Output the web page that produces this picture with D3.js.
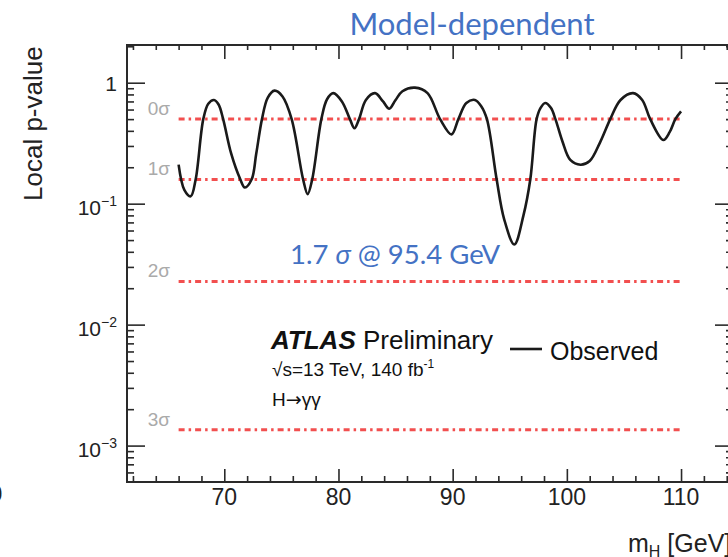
<!DOCTYPE html>
<head>
  <meta charset="utf-8">
  <title>Local p-value</title>
  <script src="https://cdn.jsdelivr.net/npm/d3@7"></script>
  <style>
    body { margin: 0; background: #fff; }
    svg text { font-family: "Liberation Sans", Arial, sans-serif; }
    svg text.blue { font-family: Lato, "Open Sans", sans-serif; }
    svg tspan.arrow { font-family: "DejaVu Sans", sans-serif; }
  </style>
</head>
<body>
<svg width="728" height="557"></svg>
<script>
// values
var massTicks = [70, 80, 90, 100, 110]
var pTicks = [1, 0.1, 0.01, 0.001]
var pBase = ["1", "10", "10", "10"]
var pExp = ["", "−1", "−2", "−3"]
var sigmaNames = ["0σ", "1σ", "2σ", "3σ"]
var sigmaP = [0.5, 0.1587, 0.02275, 0.00135]

var obsMass = [66.0, 66.5, 67.06, 67.5, 68.16, 68.6, 69.1, 69.5, 69.9, 70.6, 71.4, 71.8, 72.4, 72.8, 73.3, 73.8, 74.4, 75.1, 75.9, 76.9,
  77.3, 77.7, 78.5, 79.0, 79.55, 80.3, 81.0, 81.4, 81.8, 82.4, 83.2, 83.9, 84.45, 85.0, 85.6, 86.7, 87.8, 88.9, 89.9, 90.5,
  91.2, 91.95, 92.5, 93.0, 93.85, 94.5, 95.4, 96.2, 96.8, 97.35, 97.7, 98.1, 98.6, 99.0, 99.6, 100.3, 101.2, 102.0, 102.9, 103.8,
  104.7, 105.8, 106.6, 107.3, 108.45, 109.0, 109.5, 110.0]
var obsP = [0.21, 0.13, 0.115, 0.16, 0.5, 0.67, 0.72, 0.66, 0.5, 0.26, 0.159, 0.136, 0.159, 0.26, 0.5, 0.75, 0.86, 0.77, 0.5, 0.159,
  0.12, 0.159, 0.5, 0.73, 0.82, 0.70, 0.5, 0.42, 0.5, 0.72, 0.82, 0.70, 0.61, 0.72, 0.85, 0.91, 0.82, 0.5, 0.374, 0.5,
  0.68, 0.72, 0.64, 0.5, 0.159, 0.075, 0.046, 0.08, 0.159, 0.5, 0.62, 0.68, 0.62, 0.5, 0.33, 0.23, 0.21, 0.225, 0.32, 0.5,
  0.72, 0.82, 0.72, 0.5, 0.336, 0.39, 0.5, 0.58]

var svg = d3.select('svg')
var frameL = 127, frameR = 733, frameT = 45, frameB = 482

var x = d3.scaleLinear().domain([61.48, 114.55]).range([frameL, frameR])
var y = d3.scaleLog().domain([5e-4, 2.05]).range([frameB, frameT])

var axisColor = '#2a2a2a'

// minor ticks
var xMinor = d3.range(62, 115, 2).filter(function (d) { return massTicks.indexOf(d) < 0 })
var yMinor = []
;[-4, -3, -2, -1, 0].forEach(function (k) {
  d3.range(2, 10).forEach(function (m) {
    var v = m * Math.pow(10, k)
    if (v > 5e-4 && v < 2.05) yMinor.push(v)
  })
})

function tickAxis(axis, pos, size) {
  var g = svg.append('g').attr('transform', pos).call(axis.tickSize(size).tickFormat(''))
  g.select('.domain').remove()
  g.selectAll('line').attr('stroke', axisColor).attr('stroke-width', 1.6)
}
tickAxis(d3.axisBottom(x).tickValues(massTicks), 'translate(0,' + frameB + ')', -13)
tickAxis(d3.axisBottom(x).tickValues(xMinor), 'translate(0,' + frameB + ')', -6)
tickAxis(d3.axisTop(x).tickValues(massTicks), 'translate(0,' + frameT + ')', -14)
tickAxis(d3.axisTop(x).tickValues(xMinor), 'translate(0,' + frameT + ')', -5)
tickAxis(d3.axisLeft(y).tickValues(pTicks), 'translate(' + frameL + ',0)', -18)
tickAxis(d3.axisLeft(y).tickValues(yMinor), 'translate(' + frameL + ',0)', -7)
tickAxis(d3.axisRight(y).tickValues(pTicks), 'translate(' + frameR + ',0)', -18)
tickAxis(d3.axisRight(y).tickValues(yMinor), 'translate(' + frameR + ',0)', -7)

svg.append('rect')
  .attr('x', frameL).attr('y', frameT)
  .attr('width', frameR - frameL).attr('height', frameB - frameT)
  .attr('fill', 'none').attr('stroke', axisColor).attr('stroke-width', 2)

// x labels
svg.selectAll('.xlab').data(massTicks).enter().append('text')
  .attr('x', function (d) { return x(d) })
  .attr('y', 505)
  .attr('text-anchor', 'middle')
  .attr('font-size', 23)
  .attr('fill', '#222')
  .text(function (d) { return d })

// y labels
pTicks.forEach(function (v, i) {
  var t = svg.append('text')
    .attr('x', 117)
    .attr('y', y(v) + (i == 0 ? 8 : 11))
    .attr('text-anchor', 'end')
    .attr('font-size', 21)
    .attr('fill', '#222')
  t.append('tspan').text(pBase[i])
  if (pExp[i]) t.append('tspan').attr('font-size', 14).attr('dy', -9).text(pExp[i])
})

// axis titles
svg.append('text')
  .attr('transform', 'translate(42,201) rotate(-90)')
  .attr('font-size', 26)
  .attr('fill', '#222')
  .text('Local p-value')

var xt = svg.append('text')
  .attr('x', 628).attr('y', 552)
  .attr('font-size', 25)
  .attr('fill', '#222')
xt.append('tspan').text('m')
xt.append('tspan').attr('font-size', 16).attr('dy', 5).text('H')
xt.append('tspan').attr('dy', -5).text(' [GeV]')

// leftover glyph at the page edge
svg.append('text').attr('x', -11).attr('y', 502).attr('font-size', 24).attr('fill', '#222').text('0')

// sigma lines
svg.selectAll('.sig').data(sigmaP).enter().append('line')
  .attr('x1', x(66)).attr('x2', x(110))
  .attr('y1', function (d) { return y(d) })
  .attr('y2', function (d) { return y(d) })
  .attr('stroke', '#f03030')
  .attr('stroke-opacity', 0.85)
  .attr('stroke-width', 3)
  .attr('stroke-dasharray', '6,4,2.5,4')

svg.selectAll('.siglab').data(sigmaP).enter().append('text')
  .attr('x', 170)
  .attr('y', function (d) { return y(d) - 4 })
  .attr('text-anchor', 'end')
  .attr('font-size', 19)
  .attr('fill', '#aaa')
  .text(function (d, i) { return sigmaNames[i] })

// observed curve
var line = d3.line()
  .x(function (d, i) { return x(obsMass[i]) })
  .y(function (d, i) { return y(obsP[i]) })
  .curve(d3.curveCatmullRom.alpha(0.5))

svg.append('path')
  .attr('d', line(obsMass))
  .attr('fill', 'none')
  .attr('stroke', '#1a1a1a')
  .attr('stroke-width', 2.6)

// labels in the plot
var atlas = svg.append('text').attr('x', 271).attr('y', 349).attr('font-size', 26).attr('fill', '#111')
atlas.append('tspan').attr('font-weight', 'bold').attr('font-style', 'italic').text('ATLAS')
atlas.append('tspan').text(' Preliminary')

var energy = svg.append('text').attr('x', 272).attr('y', 376).attr('font-size', 19).attr('fill', '#111')
energy.append('tspan').text('√s=13 TeV, 140 fb')
energy.append('tspan').attr('font-size', 12).attr('dy', -8).text('-1')

var decay = svg.append('text').attr('x', 272).attr('y', 406).attr('font-size', 19).attr('fill', '#111')
decay.append('tspan').text('H')
decay.append('tspan').attr('class', 'arrow').text('→')
decay.append('tspan').text('γγ')

svg.append('line')
  .attr('x1', 510).attr('x2', 542).attr('y1', 349).attr('y2', 349)
  .attr('stroke', '#1a1a1a').attr('stroke-width', 2.6)
svg.append('text').attr('x', 550).attr('y', 360).attr('font-size', 25).attr('fill', '#111').text('Observed')

// blue annotations
svg.append('text')
  .attr('class', 'blue')
  .attr('x', 472).attr('y', 35)
  .attr('text-anchor', 'middle')
  .attr('font-size', 31)
  .attr('fill', '#4472c4')
  .text('Model-dependent')

var note = svg.append('text')
  .attr('class', 'blue')
  .attr('x', 290).attr('y', 264)
  .attr('font-size', 27.5)
  .attr('fill', '#4472c4')
note.append('tspan').text('1.7 ')
note.append('tspan').attr('font-style', 'italic').text('σ')
note.append('tspan').text(' @ 95.4 GeV')
</script>
</body>
